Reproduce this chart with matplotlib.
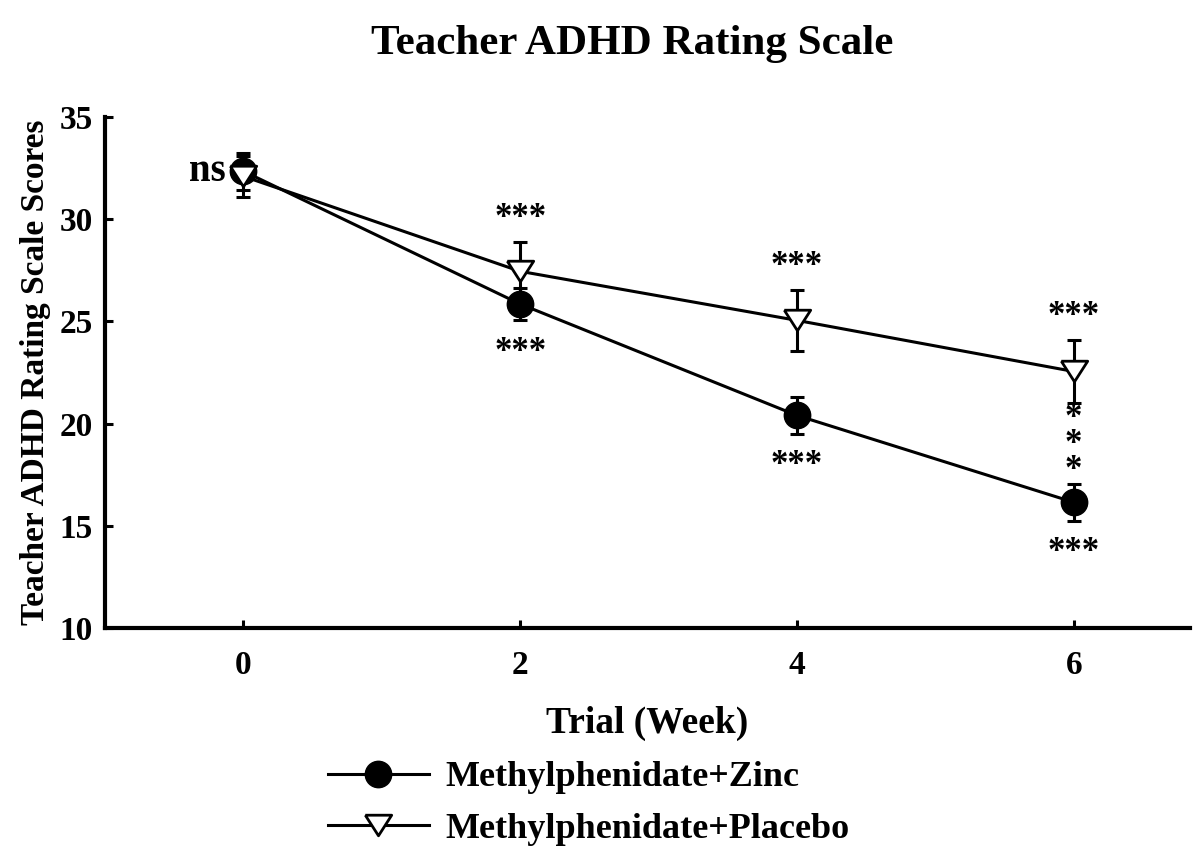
import matplotlib.pyplot as plt

plt.rcParams['font.family'] = ['Liberation Serif', 'DejaVu Serif']
plt.rcParams['font.weight'] = 'bold'

weeks = [0, 2, 4, 6]
zinc = [32.35, 25.85, 20.4, 16.15]
zinc_err = [0.9, 0.8, 0.9, 0.9]
placebo = [32.1, 27.45, 25.05, 22.55]
placebo_err = [1.0, 1.45, 1.5, 1.55]

zinc_stars = ['', '***', '***', '***']
placebo_stars = ['', '***', '***', '***']

tri = [(-1, 0.78), (1, 0.78), (0, -0.78), (-1, 0.78)]

fig = plt.figure(figsize=(12.01, 8.46), dpi=100)
ax = fig.add_axes([0.0874, 0.2577, 0.9034, 0.604])

# error bars first, then lines with markers on top
ax.errorbar(weeks, zinc, yerr=zinc_err, fmt='none', ecolor='black', elinewidth=2.2,
            capsize=5, capthick=2.2, zorder=2)
ax.errorbar(weeks, placebo, yerr=placebo_err, fmt='none', ecolor='black', elinewidth=2.2,
            capsize=5, capthick=2.2, zorder=2)
ax.plot(weeks, zinc, color='black', lw=2.2, marker='o', ms=19, mfc='black', mec='black',
        zorder=3, label='Methylphenidate+Zinc')
ax.plot(weeks, placebo, color='black', lw=2.2, marker=tri, ms=19, mfc='white', mec='black',
        mew=2, zorder=4, label='Methylphenidate+Placebo')

# significance labels
for x, y, e, s in zip(weeks, zinc, zinc_err, zinc_stars):
    if s:
        ax.text(x, y - e - 0.75, s, ha='center', va='top', fontsize=25)
for x, y, e, s in zip(weeks, placebo, placebo_err, placebo_stars):
    if s:
        ax.text(x, y + e + 0.35, s, ha='center', va='bottom', fontsize=25)
ax.text(weeks[3], (zinc[3] + placebo[3]) / 2 - 0.35, '*\n*\n*', ha='center', va='center',
        fontsize=25, linespacing=0.72)
ax.text(weeks[0] - 0.13, zinc[0], 'ns', ha='right', va='center', fontsize=28)

ax.set_xlim(-1, 6.84)
ax.set_ylim(10, 35)
ax.set_xticks(weeks)
ax.set_yticks([10, 15, 20, 25, 30, 35])
ax.tick_params(direction='in', length=6, width=2.2, labelsize=24)
ax.tick_params(axis='x', pad=16)
ax.tick_params(axis='y', pad=9)
for sp in ['top', 'right']:
    ax.spines[sp].set_visible(False)
for sp in ['left', 'bottom']:
    ax.spines[sp].set_linewidth(3)

ax.set_xlabel('Trial (Week)', fontsize=27, fontweight='bold', labelpad=18)
ax.set_ylabel('Teacher ADHD Rating Scale Scores', fontsize=24, fontweight='bold', labelpad=6)
fig.suptitle('Teacher ADHD Rating Scale', fontsize=31, fontweight='bold', x=0.526, y=0.97)

fig.legend(loc='lower center', bbox_to_anchor=(0.49, -0.038), frameon=False, fontsize=26,
           handlelength=2.8, handletextpad=0.45, labelspacing=0.5)

fig.savefig('out.png', dpi=100)
